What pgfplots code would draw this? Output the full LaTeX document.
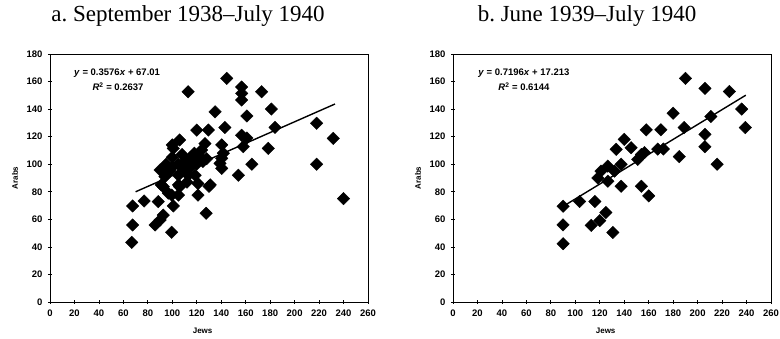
\documentclass[border=0pt]{standalone}
\usepackage{fontspec}
\setmainfont{Liberation Serif}
\newfontfamily\sfb{Liberation Sans}
\usepackage{pgfplots}
\pgfplotsset{compat=1.18}
\pgfplotsset{myax/.style={
  scale only axis, width=318pt, height=248pt,
  xmin=0, xmax=260, ymin=0, ymax=180,
  xtick={0,20,...,260}, ytick={0,20,...,180},
  xtick pos=bottom, ytick pos=left, tick align=center,
  major tick length=4pt,
  axis line style={line width=0.9pt},
  tick style={black, line width=0.7pt},
  /pgf/number format/assume math mode=true,
  ticklabel style={font=\sfb\bfseries\fontsize{9.5}{10}\selectfont},
  xticklabel style={yshift=-2pt},
  yticklabel style={xshift=-2pt},
  xlabel={Jews}, ylabel={Arabs},
  label style={font=\sfb\bfseries\fontsize{8}{9}\selectfont},
  x label style={at={(axis description cs:0.48,-0.115)}, anchor=center},
  y label style={at={(axis description cs:-0.11,0.5)}, anchor=center},
  anchor=south west, clip=false,
}}
\begin{document}
\begin{tikzpicture}
\useasboundingbox (0,0) rectangle (780pt,339pt);
\node[font=\fontsize{23}{26}\selectfont] at (188pt,323pt) {a.\ September 1938--July 1940};
\node[font=\fontsize{23}{26}\selectfont] at (587pt,323pt) {b.\ June 1939--July 1940};
\begin{axis}[myax, at={(50pt,37pt)}]
\addplot[only marks, mark=square*, mark size=4.4pt, mark options={rotate=45, fill=black, draw=black}] table {
x y
67.6 69.7
67.6 55.9
66.8 43.3
77 73.3
88.5 72.8
86 55.9
92.6 63
90 59.5
99.5 50.6
100.8 69.7
92.6 83.7
99.5 77.6
106 83.7
127.6 64.4
121 77.6
130 84
240 75
91 85
105 85
121 86
131 85
112 87
96.7 79
105 77.6
90 95.8
94 91
105 92
113 92
118.6 92
95 100
100 98
105 100
110 102
115 98
120 100
125 102
100 105
108 107
115 105
122 106
128 104
98 95
110 96
118 108
118.6 101
106 117.6
100 114
126.7 115
140.4 114
100.8 111.5
124 110.3
141.7 108
139 100.6
165 100
154 92
140.4 104.3
140.4 97
144.5 162.3
113 152.6
156.7 156
156.7 151.4
156.7 146.6
173 152.6
135 138
161 135
181 140
120 124.8
129.5 124.8
143 126.7
156.7 121
184 126.7
218 129.7
231.6 118.8
158 112.7
178.5 111.5
218 100
161 119
};
\addplot[black, line width=1.4pt] coordinates {(70,80) (233,143.7)};
\node[font=\sfb\bfseries\fontsize{9.5}{10}\selectfont] at (axis description cs:0.211,0.923) {\textit{y} = 0.3576\textit{x} + 67.01};
\node[font=\sfb\bfseries\fontsize{9.5}{10}\selectfont] at (axis description cs:0.214,0.868) {\textit{R}\textsuperscript{2} = 0.2637};
\end{axis}
\begin{axis}[myax, at={(453pt,37pt)}]
\addplot[only marks, mark=square*, mark size=4.4pt, mark options={rotate=45, fill=black, draw=black}] table {
x y
90 69.5
90 56
90 42.3
103.5 73
116 73
113 55.6
120 59
125 65
130.7 50.5
137.5 84
154 84
160 77
118.4 90
126.6 87.7
121 95
132 95
126.6 98.6
137.5 100
151 103.5
133.4 110.8
145.6 112
156.5 108.4
140 118
154 107
158 125
170 125
167.4 111
172 111
180 137
185 105.5
189 126.6
190 162.3
206 155
206 121.7
206 112.7
210.8 134.6
216 100
226 152.8
236 140
239 126.6
};
\addplot[black, line width=1.4pt] coordinates {(90,69.4) (239.4,150.1)};
\node[font=\sfb\bfseries\fontsize{9.5}{10}\selectfont] at (axis description cs:0.223,0.923) {\textit{y} = 0.7196\textit{x} + 17.213};
\node[font=\sfb\bfseries\fontsize{9.5}{10}\selectfont] at (axis description cs:0.223,0.868) {\textit{R}\textsuperscript{2} = 0.6144};
\end{axis}
\end{tikzpicture}
\end{document}
